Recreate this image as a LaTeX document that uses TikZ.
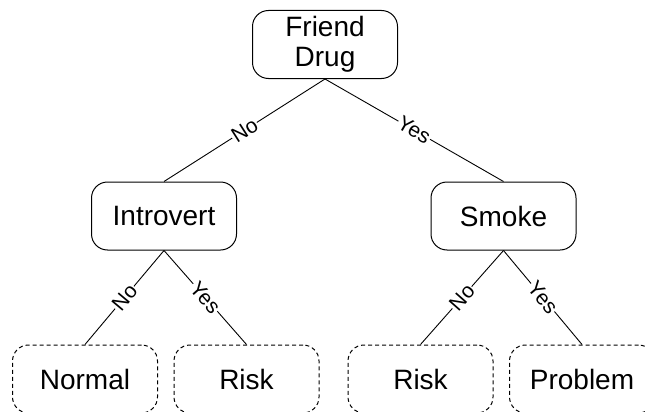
\documentclass[tikz,border=0pt]{standalone}
\usepackage{fontspec}
\setmainfont{Liberation Sans}
\begin{document}
\begin{tikzpicture}[x=1pt,y=-1pt,
  box/.style={draw, line width=1pt, rounded corners=16pt, minimum width=145pt, minimum height=68pt, inner sep=0pt, align=center, font=\fontsize{28}{30}\selectfont},
  leaf/.style={box, dashed, dash pattern=on 4pt off 3pt},
  edge/.style={line width=0.9pt},
  lab/.style={midway, sloped, fill=white, inner sep=1pt, font=\fontsize{21}{22}\selectfont}]
\useasboundingbox (0,0) rectangle (645,412);
\node[box] (root) at (325,44.5) {Friend\\Drug};
\node[box] (intro) at (164,216) {Introvert};
\node[box] (smoke) at (503.5,216) {Smoke};
\node[leaf] (normal) at (85,379) {Normal};
\node[leaf] (risk1) at (246.5,379) {Risk};
\node[leaf] (risk2) at (420.5,379) {Risk};
\node[leaf] (problem) at (582,379) {Problem};
\draw[edge] (root.south) -- node[lab] {No} (intro.north);
\draw[edge] (root.south) -- node[lab] {Yes} (smoke.north);
\draw[edge] (intro.south) -- node[lab] {No} (normal.north);
\draw[edge] (intro.south) -- node[lab] {Yes} (risk1.north);
\draw[edge] (smoke.south) -- node[lab] {No} (risk2.north);
\draw[edge] (smoke.south) -- node[lab] {Yes} (problem.north);
\end{tikzpicture}
\end{document}
